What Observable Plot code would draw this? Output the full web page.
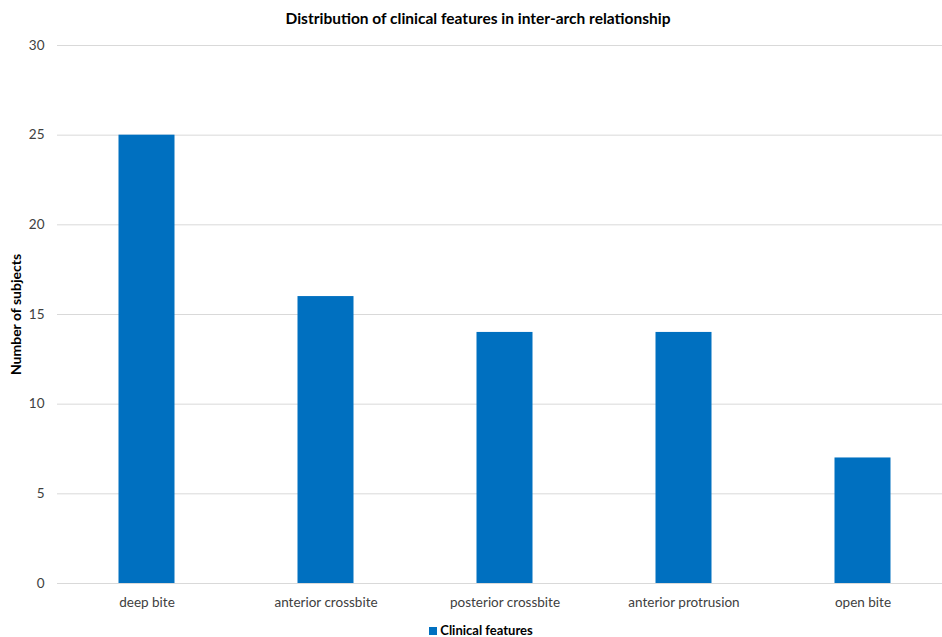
<!DOCTYPE html>
<html>
<head>
<meta charset="utf-8">
<script src="https://cdn.jsdelivr.net/npm/d3@7"></script>
<script src="https://cdn.jsdelivr.net/npm/@observablehq/plot@0.6"></script>
<style>
  body { margin: 0; background: #fff; overflow: hidden; font-family: Lato, "Open Sans", sans-serif; }
  #title { width: 956px; height: 36px; line-height: 36px; text-align: center; font-weight: bold; font-size: 15.5px; color: #000; }
  #legend { width: 962px; height: 26px; text-align: center; font-weight: bold; font-size: 13px; color: #000; line-height: 26px; margin-top: 6px; }
  #legend span.sw { display: inline-block; width: 8px; height: 8px; background: #0070C0; margin-right: 3px; vertical-align: 0px; }
</style>
</head>
<body>
<div id="title">Distribution of clinical features in inter-arch relationship</div>
<div id="chart"></div>
<div id="legend"><span class="sw"></span>Clinical features</div>
<script>
const categories = ["deep bite", "anterior crossbite", "posterior crossbite", "anterior protrusion", "open bite"];
const values = [25, 16, 14, 14, 7];
const yTicks = [0, 5, 10, 15, 20, 25, 30];
const seriesName = "Clinical features";

const data = categories.map((c, i) => ({category: c, value: values[i]}));

const plot = Plot.plot({
  width: 942,
  height: 575,
  marginTop: 9,
  marginBottom: 28,
  marginLeft: 57,
  marginRight: -10,
  style: {fontFamily: "Lato, 'Open Sans', sans-serif", fontSize: "13.5px", color: "#404040", background: "#fff", overflow: "visible"},
  x: {domain: categories, padding: 0, label: null, tickSize: 0, tickPadding: 14},
  y: {domain: [0, 30], ticks: yTicks, label: null, tickSize: 0, tickPadding: 13},
  marks: [
    Plot.ruleY(yTicks, {stroke: "#d9d9d9", strokeWidth: 1}),
    Plot.barY(data, {x: "category", y: "value", fill: "#0070C0", insetLeft: 61.5, insetRight: 61.5}),
    Plot.ruleY([0], {stroke: "#d9d9d9", strokeWidth: 1}),
    Plot.text(["Number of subjects"], {frameAnchor: "left", textAnchor: "middle", dx: -41, rotate: -90, fontWeight: "bold", fill: "#000", fontSize: 14})
  ]
});
document.getElementById("chart").appendChild(plot);
</script>
</body>
</html>
